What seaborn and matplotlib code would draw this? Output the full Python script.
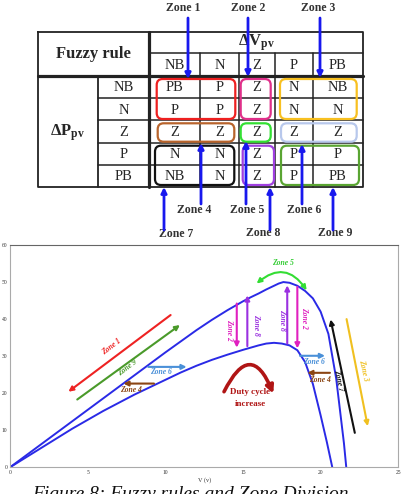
import matplotlib
matplotlib.use("Agg")
import numpy as np
import pandas as pd
import matplotlib.pyplot as plt
import seaborn as sns
from matplotlib.patches import FancyBboxPatch, FancyArrowPatch

# ---------------- data ----------------
V_upper = [0, 2, 4, 6, 8, 10, 11, 12, 12.5, 13, 13.5, 14, 14.5, 15, 15.5, 16, 16.5, 17, 17.3, 17.6,
           18.0, 18.5, 19.0, 19.5, 20.0, 20.5, 21.0, 21.3, 21.5, 21.65]
P_upper = [0, 6.2, 12.4, 18.6, 24.8, 31.0, 34.0, 37.0, 38.4, 39.8, 41.1, 42.4, 43.6, 44.8, 45.9, 46.9, 48.0, 49.0, 49.6, 50.0,
           49.8, 49.0, 47.6, 45.6, 42.0, 36.0, 24.0, 13.5, 6.5, 0]
V_lower = [0, 2, 4, 6, 8, 10, 11, 12, 13, 14, 15, 15.5, 16, 16.5, 17, 17.5, 18, 18.5, 19, 19.5, 20, 20.4, 20.75]
P_lower = [0, 5.2, 10.4, 15.2, 19.6, 23.6, 25.6, 27.4, 29.0, 30.4, 31.7, 32.3, 32.9, 33.4, 33.6, 33.4, 32.9, 31.6,
           28.4, 22.5, 14.0, 6.8, 0]

col_labels = ["NB", "N", "Z", "P", "PB"]
row_labels = ["NB", "N", "Z", "P", "PB"]
rule_table = [["PB", "P", "Z", "N", "NB"],
              ["P", "P", "Z", "N", "N"],
              ["Z", "Z", "Z", "Z", "Z"],
              ["N", "N", "Z", "P", "P"],
              ["NB", "N", "Z", "P", "PB"]]

x_ticks = [0, 5, 10, 15, 20, 25]
y_ticks = [0, 10, 20, 30, 40, 50, 60]

# ---------------- style ----------------
sns.set_style("white")
plt.rcParams["font.family"] = ["Liberation Serif", "DejaVu Serif"]
plt.rcParams["mathtext.fontset"] = "custom"
plt.rcParams["mathtext.rm"] = "Liberation Serif"
plt.rcParams["mathtext.bf"] = "Liberation Serif:bold"
plt.rcParams["mathtext.it"] = "Liberation Serif:italic"

fig = plt.figure(figsize=(4.06, 4.94), dpi=100)
fig.patch.set_facecolor("white")

# ---------------- table (pixel coordinates) ----------------
ax_t = fig.add_axes([0, 0, 1, 1])
ax_t.set_xlim(0, 406)
ax_t.set_ylim(494, 0)
ax_t.axis("off")

X0, X1, XS, XM = 38, 363, 98, 149
Y0, Y1, YH, YM = 32, 187, 53.5, 76
col_x = [149, 200, 239, 275, 313, 363]
row_y = [76, 98.5, 120.5, 143, 165, 187]
lc = "#222222"
ax_t.plot([X0, X1, X1, X0, X0], [Y0, Y0, Y1, Y1, Y0], color=lc, lw=1.3)
ax_t.plot([XM, XM], [Y0, Y1], color=lc, lw=2.3)
ax_t.plot([X0, X1], [YM, YM], color=lc, lw=2.3)
ax_t.plot([XM, X1], [YH, YH], color=lc, lw=1.1)
for cx in col_x[1:-1]:
    ax_t.plot([cx, cx], [YH, Y1], color=lc, lw=1.1)
for ry in row_y[1:-1]:
    ax_t.plot([XS, X1], [ry, ry], color=lc, lw=1.1)
ax_t.plot([XS, XS], [YM, Y1], color=lc, lw=1.3)

ax_t.text((X0 + XM) / 2, 54, "Fuzzy rule", fontsize=12, fontweight="bold", ha="center", va="center")
ax_t.text((XM + X1) / 2, 43, r"$\mathbf{\Delta V}_{\mathbf{pv}}$", fontsize=12, ha="center", va="center")
ax_t.text((X0 + XS) / 2, 133, r"$\mathbf{\Delta P}_{\mathbf{pv}}$", fontsize=12, ha="center", va="center")

for j, lab in enumerate(col_labels):
    ax_t.text((col_x[j] + col_x[j + 1]) / 2, (YH + YM) / 2 + 1, lab, fontsize=10.5, ha="center", va="center")
for i, lab in enumerate(row_labels):
    ax_t.text((XS + XM) / 2, (row_y[i] + row_y[i + 1]) / 2 + 0.5, lab, fontsize=10.5, ha="center", va="center")
    for j in range(5):
        ax_t.text((col_x[j] + col_x[j + 1]) / 2, (row_y[i] + row_y[i + 1]) / 2 + 0.5, rule_table[i][j],
                  fontsize=10.5, ha="center", va="center")

zone_boxes = [
    ((156.7, 79.0, 235.3, 119.0), "#ee2020"),
    ((240.7, 79.0, 270.7, 119.0), "#e0308a"),
    ((280.0, 79.0, 356.7, 119.0), "#f8c020"),
    ((157.7, 123.3, 234.3, 141.7), "#b8642c"),
    ((240.7, 123.3, 270.7, 141.7), "#33e033"),
    ((281.0, 123.3, 356.7, 141.7), "#b8c8ec"),
    ((155.0, 145.7, 234.3, 185.0), "#111111"),
    ((242.7, 145.7, 274.0, 185.0), "#a040e0"),
    ((281.0, 145.7, 359.0, 185.0), "#5aa532"),
]
for (x0, y0, x1, y1), c in zone_boxes:
    ax_t.add_patch(FancyBboxPatch((x0, y0), x1 - x0, y1 - y0,
                                  boxstyle="round,pad=0,rounding_size=6",
                                  fill=False, ec=c, lw=1.6, zorder=3))

arrow_blue = "#1818ee"
top_zones = [("Zone 1", 183, 188, 79), ("Zone 2", 248, 248, 77), ("Zone 3", 318, 320, 78)]
for lab, tx, ax_x, head_y in top_zones:
    ax_t.text(tx, 8, lab, fontsize=8.5, fontweight="bold", ha="center", va="center", color="#333333")
    ax_t.annotate("", xy=(ax_x, head_y), xytext=(ax_x, 18),
                  arrowprops=dict(arrowstyle="-|>", color=arrow_blue, lw=2.0, mutation_scale=8,
                                  shrinkA=0, shrinkB=0), zorder=4)
bottom_zones = [("Zone 4", 194, 210, 201, 204, 143), ("Zone 5", 247, 210, 246, 204, 141),
                ("Zone 6", 304, 210, 302, 204, 144), ("Zone 7", 176, 234, 164, 230, 187),
                ("Zone 8", 263, 233, 270, 230, 187), ("Zone 9", 335, 233, 333, 230, 187)]
for lab, tx, ty, ax_x, tail_y, head_y in bottom_zones:
    ax_t.text(tx, ty, lab, fontsize=8.5, fontweight="bold", ha="center", va="center", color="#333333")
    ax_t.annotate("", xy=(ax_x, head_y), xytext=(ax_x, tail_y),
                  arrowprops=dict(arrowstyle="-|>", color=arrow_blue, lw=2.0, mutation_scale=8,
                                  shrinkA=0, shrinkB=0), zorder=4)

# caption (cut at the bottom edge, as in the reference)
ax_t.text(190, 485.5, "Figure 8: Fuzzy rules and Zone Division", fontsize=14, ha="center", va="top",
          style="italic", color="#111111")

# ---------------- P-V plot ----------------
ax = fig.add_axes([10 / 406, (494 - 467.3) / 494, 388.3 / 406, 222.3 / 494])
ax.set_facecolor("white")
df = pd.concat([
    pd.DataFrame({"V": V_upper, "P": P_upper, "curve": "upper"}),
    pd.DataFrame({"V": V_lower, "P": P_lower, "curve": "lower"}),
])
sns.lineplot(data=df, x="V", y="P", hue="curve", palette=["#2a2ae6", "#2a2ae6"], sort=False,
             legend=False, ax=ax, linewidth=1.4)
ax.set_xlim(0, 25)
ax.set_ylim(0, 60)
ax.set_xticks(x_ticks)
ax.set_yticks(y_ticks)
ax.tick_params(direction="in", length=2, width=0.5, labelsize=4, pad=2, colors="#666666",
               labelcolor="#333333")
ax.set_xlabel("V (v)", fontsize=4.5, labelpad=1.5, color="#333333")
ax.set_ylabel("")
for s in ["left", "right", "bottom"]:
    ax.spines[s].set_color("#aaaaaa")
    ax.spines[s].set_linewidth(0.8)
ax.spines["top"].set_color("#666666")
ax.spines["top"].set_linewidth(0.8)

zfont = dict(fontsize=5.5, fontweight="bold", style="italic", ha="center", va="center")

def arr(tail, head, c, lw=1.5, ms=7, style="-|>"):
    ax.annotate("", xy=head, xytext=tail,
                arrowprops=dict(arrowstyle=style, color=c, lw=lw, mutation_scale=ms, shrinkA=0, shrinkB=0))

# Zone 1 / Zone 9 (left diagonal)
arr((10.34, 41.1), (3.76, 20.4), "#ee2222")
ax.text(6.55, 32.6, "Zone 1", color="#ee2222", rotation=37, **zfont)
arr((4.33, 18.3), (10.94, 38.4), "#4a9a2a")
ax.text(7.6, 26.8, "Zone 9", color="#4a9a2a", rotation=37, **zfont)
# Zone 6 / Zone 4 (left horizontal)
arr((8.9, 27.1), (11.37, 27.1), "#4a90d8")
ax.text(9.7, 25.7, "Zone 6", color="#4a90d8", **zfont)
arr((9.27, 22.6), (7.3, 22.6), "#8b4513")
ax.text(7.8, 20.8, "Zone 4", color="#8b4513", **zfont)
# vertical Zone 2 / Zone 8
arr((14.6, 44.2), (14.6, 32.3), "#e020c0")
ax.text(14.1, 37.0, "Zone 2", color="#e020c0", rotation=-90, **zfont)
arr((15.28, 32.7), (15.28, 46.4), "#9a30e0")
ax.text(15.84, 38.4, "Zone 8", color="#9a30e0", rotation=-90, **zfont)
arr((17.85, 33.4), (17.85, 49.1), "#9a30e0")
ax.text(17.5, 39.7, "Zone 8", color="#9a30e0", rotation=-90, **zfont)
arr((18.5, 48.7), (18.5, 32.1), "#e020c0")
ax.text(18.93, 40.2, "Zone 2", color="#e020c0", rotation=-90, **zfont)
# Zone 5 curved double arrow
ax.add_patch(FancyArrowPatch((15.88, 49.6), (19.1, 47.8), connectionstyle="arc3,rad=-0.55",
                             arrowstyle="<|-|>", color="#33dd33", lw=1.5, mutation_scale=7,
                             shrinkA=0, shrinkB=0))
ax.text(17.6, 55.2, "Zone 5", color="#33cc33", **zfont)
# right side Zone 6 / Zone 4
arr((18.67, 30.1), (20.28, 30.1), "#4a90d8")
ax.text(19.6, 28.5, "Zone 6", color="#4a90d8", **zfont)
arr((20.6, 25.5), (19.14, 25.5), "#8b4513")
ax.text(19.96, 23.6, "Zone 4", color="#8b4513", **zfont)
# Zone 7 / Zone 3
arr((22.2, 9.3), (20.64, 39.9), "#111111")
ax.text(21.15, 23.5, "Zone 7", color="#111111", rotation=-78, **zfont)
arr((21.67, 40.0), (23.03, 11.1), "#f0c020")
ax.text(22.75, 26.2, "Zone 3", color="#f0c020", rotation=-78, **zfont)
# Duty cycle increase
ax.add_patch(FancyArrowPatch((13.78, 20.4), (16.95, 19.9), connectionstyle="arc3,rad=-1.1",
                             arrowstyle="-|>", color="#b01515", lw=2.6, mutation_scale=11,
                             shrinkA=0, shrinkB=0))
ax.text(15.45, 20.4, "Duty cycle", color="#b01515", fontsize=6.5, fontweight="bold", ha="center", va="center")
ax.text(15.45, 17.2, "increase", color="#b01515", fontsize=6.5, fontweight="bold", ha="center", va="center")

fig.savefig("out.png", dpi=100, facecolor="white")
